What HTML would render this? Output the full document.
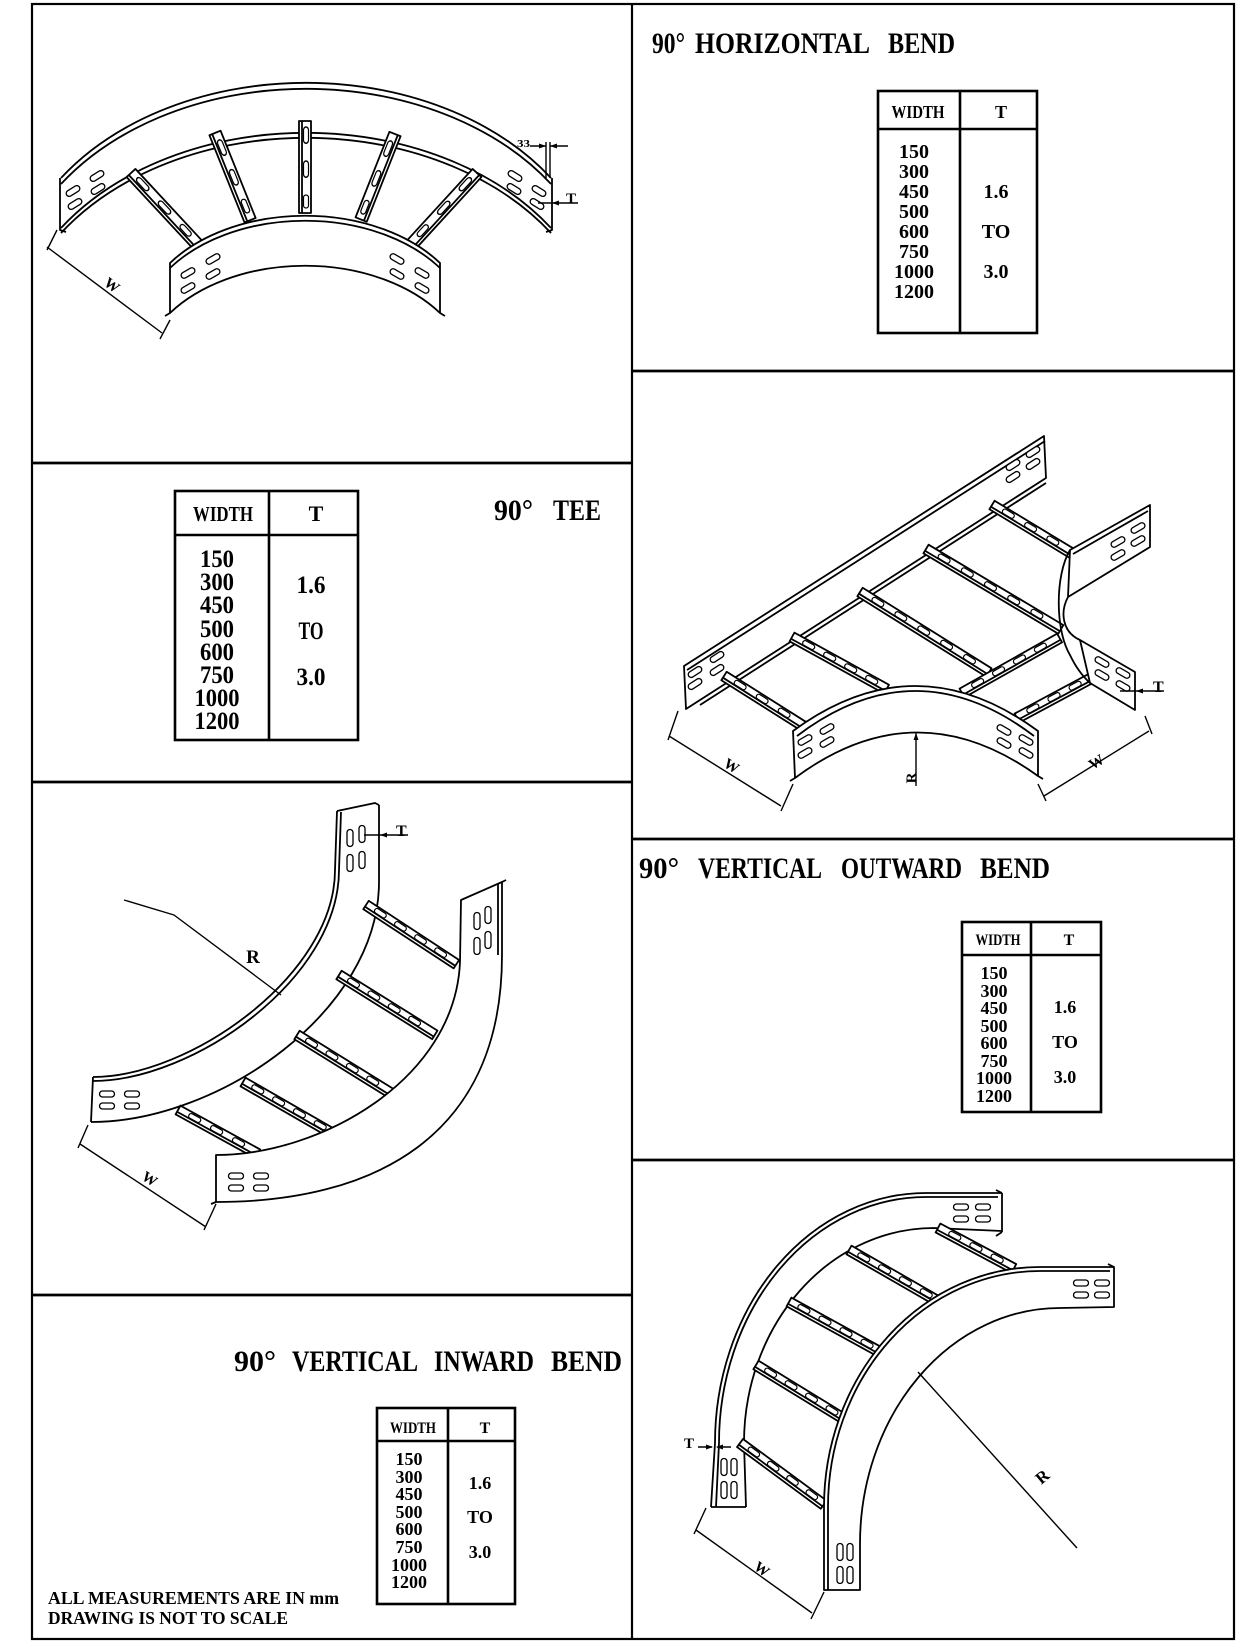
<!DOCTYPE html>
<html><head><meta charset="utf-8">
<style>
html,body{margin:0;padding:0;background:#fff;}
svg{display:block;}
text{font-family:"Liberation Serif",serif;font-weight:bold;fill:#000;stroke:none;}
</style></head><body>
<svg width="1260" height="1641" viewBox="0 0 1260 1641" xmlns="http://www.w3.org/2000/svg">
<defs>
<rect id="sl" x="-7.5" y="-3" width="15" height="6" rx="3" fill="#fff" stroke="#000" stroke-width="1.3"/>
<rect id="sv" x="-3" y="-8.5" width="6" height="17" rx="3" fill="#fff" stroke="#000" stroke-width="1.3"/>
<rect id="rs" x="0" y="-3.5" width="13" height="5" rx="2.5" fill="#fff" stroke="#000" stroke-width="1.2"/>
</defs>
<rect width="1260" height="1641" fill="#fff"/>

<!-- FRAME -->
<g fill="none" stroke="#000" stroke-width="2.2">
<rect x="32" y="4" width="1202" height="1635"/>
<line x1="632" y1="4" x2="632" y2="1639"/>
<line x1="32" y1="463" x2="632" y2="463" stroke-width="2.8"/>
<line x1="32" y1="782" x2="632" y2="782" stroke-width="2.8"/>
<line x1="32" y1="1295" x2="632" y2="1295" stroke-width="2.8"/>
<line x1="632" y1="371" x2="1234" y2="371" stroke-width="2.8"/>
<line x1="632" y1="839" x2="1234" y2="839" stroke-width="2.8"/>
<line x1="632" y1="1160" x2="1234" y2="1160" stroke-width="2.8"/>
</g>

<!-- TITLES -->
<g font-size="30">
<text x="652" y="53" textLength="33" lengthAdjust="spacingAndGlyphs">90°</text>
<text x="695" y="53" textLength="175" lengthAdjust="spacingAndGlyphs">HORIZONTAL</text>
<text x="888" y="53" textLength="67" lengthAdjust="spacingAndGlyphs">BEND</text>

<text x="494" y="520" textLength="39" lengthAdjust="spacingAndGlyphs">90°</text>
<text x="553" y="520" textLength="48" lengthAdjust="spacingAndGlyphs">TEE</text>

<text x="639" y="878" textLength="40" lengthAdjust="spacingAndGlyphs">90°</text>
<text x="698" y="878" textLength="124" lengthAdjust="spacingAndGlyphs">VERTICAL</text>
<text x="841" y="878" textLength="121" lengthAdjust="spacingAndGlyphs">OUTWARD</text>
<text x="980" y="878" textLength="70" lengthAdjust="spacingAndGlyphs">BEND</text>

<text x="234" y="1371" textLength="42" lengthAdjust="spacingAndGlyphs">90°</text>
<text x="292" y="1371" textLength="126" lengthAdjust="spacingAndGlyphs">VERTICAL</text>
<text x="434" y="1371" textLength="100" lengthAdjust="spacingAndGlyphs">INWARD</text>
<text x="551" y="1371" textLength="71" lengthAdjust="spacingAndGlyphs">BEND</text>
</g>

<!-- TABLES -->
<g fill="none" stroke="#000" stroke-width="2.6">
<rect x="878" y="91" width="159" height="242"/>
<line x1="878" y1="129" x2="1037" y2="129"/>
<line x1="960" y1="91" x2="960" y2="333"/>
<rect x="175" y="491" width="183" height="249"/>
<line x1="175" y1="535" x2="358" y2="535"/>
<line x1="269" y1="491" x2="269" y2="740"/>
<rect x="962" y="922" width="139" height="190"/>
<line x1="962" y1="955" x2="1101" y2="955"/>
<line x1="1031" y1="922" x2="1031" y2="1112"/>
<rect x="377" y="1408" width="138" height="196"/>
<line x1="377" y1="1441" x2="515" y2="1441"/>
<line x1="448" y1="1408" x2="448" y2="1604"/>
</g>

<!-- table 1 text -->
<g font-size="20" text-anchor="middle">
<text x="918" y="118" font-size="18" textLength="53" lengthAdjust="spacingAndGlyphs">WIDTH</text>
<text x="1001" y="118" font-size="18">T</text>
<text x="914" y="158">150</text>
<text x="914" y="178">300</text>
<text x="914" y="198">450</text>
<text x="914" y="218">500</text>
<text x="914" y="238">600</text>
<text x="914" y="258">750</text>
<text x="914" y="278">1000</text>
<text x="914" y="298">1200</text>
<text x="996" y="198">1.6</text>
<text x="996" y="238">TO</text>
<text x="996" y="278">3.0</text>
</g>
<!-- table 2 text -->
<g font-size="25" text-anchor="middle">
<text x="223" y="521" font-size="21" textLength="60" lengthAdjust="spacingAndGlyphs">WIDTH</text>
<text x="316" y="521" font-size="22">T</text>
<text x="217" y="567" textLength="34" lengthAdjust="spacingAndGlyphs">150</text>
<text x="217" y="590" textLength="34" lengthAdjust="spacingAndGlyphs">300</text>
<text x="217" y="613" textLength="34" lengthAdjust="spacingAndGlyphs">450</text>
<text x="217" y="637" textLength="34" lengthAdjust="spacingAndGlyphs">500</text>
<text x="217" y="660" textLength="34" lengthAdjust="spacingAndGlyphs">600</text>
<text x="217" y="683" textLength="34" lengthAdjust="spacingAndGlyphs">750</text>
<text x="217" y="706" textLength="45" lengthAdjust="spacingAndGlyphs">1000</text>
<text x="217" y="729" textLength="45" lengthAdjust="spacingAndGlyphs">1200</text>
<text x="311" y="593" textLength="29" lengthAdjust="spacingAndGlyphs">1.6</text>
<text x="311" y="639" textLength="25" lengthAdjust="spacingAndGlyphs">TO</text>
<text x="311" y="685" textLength="29" lengthAdjust="spacingAndGlyphs">3.0</text>
</g>
<!-- table 3 text -->
<g font-size="18" text-anchor="middle">
<text x="998" y="945" font-size="16" textLength="45" lengthAdjust="spacingAndGlyphs">WIDTH</text>
<text x="1069" y="945" font-size="16">T</text>
<text x="994" y="979">150</text>
<text x="994" y="997">300</text>
<text x="994" y="1014">450</text>
<text x="994" y="1032">500</text>
<text x="994" y="1049">600</text>
<text x="994" y="1067">750</text>
<text x="994" y="1084">1000</text>
<text x="994" y="1102">1200</text>
<text x="1065" y="1013">1.6</text>
<text x="1065" y="1048">TO</text>
<text x="1065" y="1083">3.0</text>
</g>
<!-- table 4 text -->
<g font-size="18" text-anchor="middle">
<text x="413" y="1433" font-size="16" textLength="46" lengthAdjust="spacingAndGlyphs">WIDTH</text>
<text x="485" y="1433" font-size="16">T</text>
<text x="409" y="1465">150</text>
<text x="409" y="1483">300</text>
<text x="409" y="1500">450</text>
<text x="409" y="1518">500</text>
<text x="409" y="1535">600</text>
<text x="409" y="1553">750</text>
<text x="409" y="1571">1000</text>
<text x="409" y="1588">1200</text>
<text x="480" y="1489">1.6</text>
<text x="480" y="1523">TO</text>
<text x="480" y="1558">3.0</text>
</g>

<!-- FOOTER -->
<g font-size="18">
<text x="48" y="1604" textLength="291" lengthAdjust="spacingAndGlyphs">ALL MEASUREMENTS ARE IN mm</text>
<text x="48" y="1624" textLength="240" lengthAdjust="spacingAndGlyphs">DRAWING IS NOT TO SCALE</text>
</g>

<!-- ============ HORIZONTAL BEND ============ -->
<g fill="none" stroke="#000" stroke-width="1.8" stroke-linejoin="round">
<path d="M61,178 A297,219 0 0 1 551,178"/>
<path d="M61,184 A297,219 0 0 1 551,184"/>
<path d="M61,228 A297,219 0 0 1 551,228"/>
<path d="M61,233 A297,219 0 0 1 551,233"/>
<path d="M60,178 L60,230 L66,232"/>
<path d="M552,178 L552,230 L546,232"/>
<use href="#sl" transform="translate(73,191) rotate(-32)"/>
<use href="#sl" transform="translate(75,204) rotate(-32)"/>
<use href="#sl" transform="translate(97,176) rotate(-32)"/>
<use href="#sl" transform="translate(98,189) rotate(-32)"/>
<use href="#sl" transform="translate(539,191) rotate(32)"/>
<use href="#sl" transform="translate(537,204) rotate(32)"/>
<use href="#sl" transform="translate(515,176) rotate(32)"/>
<use href="#sl" transform="translate(514,189) rotate(32)"/>
<!-- rungs -->
<g transform="translate(131,173) rotate(47.1)"><rect x="0" y="-6" width="98" height="12" fill="#fff"/><line x1="0" y1="3" x2="98" y2="3"/><use href="#rs" transform="translate(8,0) scale(1.25,1)"/><use href="#rs" transform="translate(40,0) scale(1.25,1)"/><use href="#rs" transform="translate(72,0) scale(1.1,1)"/></g>
<g transform="translate(215,133) rotate(68.1)"><rect x="0" y="-6" width="94" height="12" fill="#fff"/><line x1="0" y1="3" x2="94" y2="3"/><use href="#rs" transform="translate(8,0) scale(1.25,1)"/><use href="#rs" transform="translate(40,0) scale(1.25,1)"/><use href="#rs" transform="translate(72,0) scale(1.1,1)"/></g>
<g transform="translate(305,121) rotate(90)"><rect x="0" y="-6" width="92" height="12" fill="#fff"/><line x1="0" y1="3" x2="92" y2="3"/><use href="#rs" transform="translate(6,0) scale(1.25,1)"/><use href="#rs" transform="translate(40,0) scale(1.25,1)"/><use href="#rs" transform="translate(74,0) scale(1,1)"/></g>
<g transform="translate(395,134) rotate(111.6)"><rect x="0" y="-6" width="92" height="12" fill="#fff"/><line x1="0" y1="-3" x2="92" y2="-3"/><use href="#rs" transform="translate(8,2) scale(1.25,1)"/><use href="#rs" transform="translate(40,2) scale(1.25,1)"/><use href="#rs" transform="translate(72,2) scale(1.1,1)"/></g>
<g transform="translate(477,173) rotate(132.5)"><rect x="0" y="-6" width="96" height="12" fill="#fff"/><line x1="0" y1="-3" x2="96" y2="-3"/><use href="#rs" transform="translate(8,2) scale(1.25,1)"/><use href="#rs" transform="translate(40,2) scale(1.25,1)"/><use href="#rs" transform="translate(72,2) scale(1.1,1)"/></g>
<!-- inner rail -->
<path d="M170,263 A166,113 0 0 1 440,263 L440,313 A166,113 0 0 0 170,313 Z" fill="#fff"/>
<path d="M170,268 A166,113 0 0 1 440,268"/>
<path d="M170,313 L165,316 M440,313 L445,316"/>
<use href="#sl" transform="translate(188,273) rotate(-30)"/>
<use href="#sl" transform="translate(188,288) rotate(-30)"/>
<use href="#sl" transform="translate(213,259) rotate(-30)"/>
<use href="#sl" transform="translate(213,274) rotate(-30)"/>
<use href="#sl" transform="translate(422,273) rotate(30)"/>
<use href="#sl" transform="translate(422,288) rotate(30)"/>
<use href="#sl" transform="translate(397,259) rotate(30)"/>
<use href="#sl" transform="translate(397,274) rotate(30)"/>
<!-- dims -->
<g stroke-width="1.4">
<path d="M47,247 L162,333"/>
<path d="M57,230 L47,250 M170,320 L160,339"/>
<path d="M546,142 L546,178 M550,142 L550,178"/>
<path d="M530,146 L546,146 M550,146 L568,146"/>
<path d="M538,203 L578,203"/>
</g>
<polygon points="546,146 539,143.5 539,148.5" fill="#000" stroke="none"/>
<polygon points="550,146 557,143.5 557,148.5" fill="#000" stroke="none"/>
<polygon points="552,203 559,200.5 559,205.5" fill="#000" stroke="none"/>
</g>
<text x="517" y="147" font-size="11" textLength="13" lengthAdjust="spacingAndGlyphs">33</text>
<text x="566" y="203" font-size="15">T</text>
<text x="0" y="0" font-size="15" text-anchor="middle" transform="translate(109,289) rotate(37)">W</text>

<!-- ============ TEE ============ -->
<g fill="none" stroke="#000" stroke-width="1.8" stroke-linejoin="round">
<path d="M684,666 L1044,436 L1046,478 L686,709 Z" fill="#fff"/>
<path d="M687,670 L1045,441"/>
<path d="M700,705 L1046,483"/>
<use href="#sl" transform="translate(695,672) rotate(-33)"/>
<use href="#sl" transform="translate(695,684) rotate(-33)"/>
<use href="#sl" transform="translate(717,657) rotate(-33)"/>
<use href="#sl" transform="translate(717,670) rotate(-33)"/>
<use href="#sl" transform="translate(1013,465) rotate(-33)"/>
<use href="#sl" transform="translate(1013,477) rotate(-33)"/>
<use href="#sl" transform="translate(1033,452) rotate(-33)"/>
<use href="#sl" transform="translate(1033,464) rotate(-33)"/>
<!-- main rungs -->
<g transform="translate(724,676) rotate(32.3)"><rect x="0" y="-5" width="96" height="10" fill="#fff"/><line x1="0" y1="2" x2="96" y2="2"/><use href="#rs" transform="translate(12,0)"/><use href="#rs" transform="translate(38,0)"/><use href="#rs" transform="translate(64,0)"/></g>
<g transform="translate(792,637) rotate(28.9)"><rect x="0" y="-5" width="108" height="10" fill="#fff"/><line x1="0" y1="2" x2="108" y2="2"/><use href="#rs" transform="translate(12,0)"/><use href="#rs" transform="translate(36,0)"/><use href="#rs" transform="translate(60,0)"/><use href="#rs" transform="translate(84,0)"/></g>
<g transform="translate(860,592) rotate(32)"><rect x="0" y="-5" width="152" height="10" fill="#fff"/><line x1="0" y1="2" x2="152" y2="2"/><use href="#rs" transform="translate(14,0)"/><use href="#rs" transform="translate(41,0)"/><use href="#rs" transform="translate(68,0)"/><use href="#rs" transform="translate(95,0)"/><use href="#rs" transform="translate(122,0)"/></g>
<g transform="translate(926,549) rotate(30.8)"><rect x="0" y="-5" width="157" height="10" fill="#fff"/><line x1="0" y1="2" x2="157" y2="2"/><use href="#rs" transform="translate(14,0)"/><use href="#rs" transform="translate(41,0)"/><use href="#rs" transform="translate(68,0)"/><use href="#rs" transform="translate(95,0)"/><use href="#rs" transform="translate(122,0)"/></g>
<g transform="translate(992,505) rotate(31.2)"><rect x="0" y="-5" width="95" height="10" fill="#fff"/><line x1="0" y1="2" x2="95" y2="2"/><use href="#rs" transform="translate(12,0)"/><use href="#rs" transform="translate(38,0)"/><use href="#rs" transform="translate(64,0)"/></g>
<!-- branch rungs -->
<g transform="translate(962,693) rotate(-29.4)"><rect x="0" y="-5" width="112" height="10" fill="#fff"/><line x1="0" y1="2" x2="112" y2="2"/><use href="#rs" transform="translate(12,0)"/><use href="#rs" transform="translate(36,0)"/><use href="#rs" transform="translate(60,0)"/><use href="#rs" transform="translate(84,0)"/></g>
<g transform="translate(1017,718) rotate(-28.2)"><rect x="0" y="-5" width="88" height="10" fill="#fff"/><line x1="0" y1="2" x2="88" y2="2"/><use href="#rs" transform="translate(12,0)"/><use href="#rs" transform="translate(36,0)"/><use href="#rs" transform="translate(60,0)"/></g>
<!-- front arc plate -->
<path d="M793,731 Q915.5,641 1038,731 L1038,776 Q916,688 795,778 Z" fill="#fff"/>
<path d="M797,736 Q915.5,646 1034,736"/>
<path d="M795,778 L790,781 M1038,776 L1043,779"/>
<use href="#sl" transform="translate(805,740) rotate(-30)"/>
<use href="#sl" transform="translate(805,753) rotate(-30)"/>
<use href="#sl" transform="translate(827,729) rotate(-30)"/>
<use href="#sl" transform="translate(827,742) rotate(-30)"/>
<use href="#sl" transform="translate(1004,730) rotate(30)"/>
<use href="#sl" transform="translate(1004,743) rotate(30)"/>
<use href="#sl" transform="translate(1026,740) rotate(30)"/>
<use href="#sl" transform="translate(1026,753) rotate(30)"/>
<!-- branch side rail -->
<path d="M1070,550 C1055,575 1055,630 1070,655 Q1078,672 1090,683" />
<path d="M1068,597 C1060,612 1062,632 1080,640"/>
<path d="M1070,550 L1150,505 L1150,547 L1068,597 Z" fill="#fff"/>
<path d="M1073,554 L1148,511"/>
<path d="M1080,640 L1135,672 L1135,710 L1090,683 Z" fill="#fff"/>
<use href="#sl" transform="translate(1118,542) rotate(-30)"/>
<use href="#sl" transform="translate(1118,555) rotate(-30)"/>
<use href="#sl" transform="translate(1138,528) rotate(-30)"/>
<use href="#sl" transform="translate(1138,541) rotate(-30)"/>
<use href="#sl" transform="translate(1102,662) rotate(30)"/>
<use href="#sl" transform="translate(1102,675) rotate(30)"/>
<use href="#sl" transform="translate(1123,673) rotate(30)"/>
<use href="#sl" transform="translate(1123,686) rotate(30)"/>
<!-- dims -->
<g stroke-width="1.4">
<path d="M669,736 L781,806 M678,711 L668,740 M793,784 L781,811"/>
<path d="M1044,796 L1149,731 M1038,784 L1046,801 M1145,716 L1152,734"/>
<path d="M916,733 L916,786"/>
<path d="M1120,691 L1164,691"/>
</g>
<polygon points="916,733 913.5,740 918.5,740" fill="#000" stroke="none"/>
<polygon points="1136,691 1143,688.5 1143,693.5" fill="#000" stroke="none"/>
</g>
<text x="1153" y="692" font-size="16">T</text>
<text x="0" y="0" font-size="15" text-anchor="middle" transform="translate(729,770) rotate(32)">W</text>
<text x="0" y="0" font-size="15" text-anchor="middle" transform="translate(1099,766) rotate(-32)">W</text>
<text x="0" y="0" font-size="15" text-anchor="middle" transform="translate(916,778) rotate(-90)">R</text>

<!-- ============ VERTICAL OUTWARD BEND ============ -->
<g fill="none" stroke="#000" stroke-width="1.8" stroke-linejoin="round">
<!-- upper rail -->
<path d="M337,811 L375,803 L379,805"/>
<path d="M337,811 L335,870 C335,975 190,1077 93,1077"/>
<path d="M341,812 L339,870 C339,979 193,1081 93,1081"/>
<path d="M379,805 L379,882 C379,1010 220,1122 91,1122"/>
<path d="M93,1077 L91,1122"/>
<use href="#sv" transform="translate(350,838)"/>
<use href="#sv" transform="translate(362,834)"/>
<use href="#sv" transform="translate(350,863)"/>
<use href="#sv" transform="translate(362,860)"/>
<use href="#sl" transform="translate(107,1094)"/>
<use href="#sl" transform="translate(132,1094)"/>
<use href="#sl" transform="translate(107,1106)"/>
<use href="#sl" transform="translate(132,1106)"/>
<!-- rungs -->
<g transform="translate(366,905) rotate(33.2)"><rect x="0" y="-5" width="108" height="10" fill="#fff"/><line x1="0" y1="2" x2="108" y2="2"/><use href="#rs" transform="translate(10,0)"/><use href="#rs" transform="translate(34,0)"/><use href="#rs" transform="translate(58,0)"/><use href="#rs" transform="translate(82,0)"/></g>
<g transform="translate(339,975) rotate(32)"><rect x="0" y="-5" width="113" height="10" fill="#fff"/><line x1="0" y1="2" x2="113" y2="2"/><use href="#rs" transform="translate(10,0)"/><use href="#rs" transform="translate(34,0)"/><use href="#rs" transform="translate(58,0)"/><use href="#rs" transform="translate(82,0)"/></g>
<g transform="translate(297,1035) rotate(31.8)"><rect x="0" y="-5" width="112" height="10" fill="#fff"/><line x1="0" y1="2" x2="112" y2="2"/><use href="#rs" transform="translate(10,0)"/><use href="#rs" transform="translate(34,0)"/><use href="#rs" transform="translate(58,0)"/><use href="#rs" transform="translate(82,0)"/></g>
<g transform="translate(243,1082) rotate(29.9)"><rect x="0" y="-5" width="106" height="10" fill="#fff"/><line x1="0" y1="2" x2="106" y2="2"/><use href="#rs" transform="translate(10,0)"/><use href="#rs" transform="translate(34,0)"/><use href="#rs" transform="translate(58,0)"/><use href="#rs" transform="translate(82,0)"/></g>
<g transform="translate(178,1110) rotate(28.8)"><rect x="0" y="-5" width="91" height="10" fill="#fff"/><line x1="0" y1="2" x2="91" y2="2"/><use href="#rs" transform="translate(12,0)"/><use href="#rs" transform="translate(37,0)"/><use href="#rs" transform="translate(62,0)"/></g>
<!-- lower rail -->
<path d="M461,900 L502,882 L502,955 C502,1140 370,1202 216,1202 L216,1155 C320,1155 455,1080 460,962 Z" fill="#fff"/>
<path d="M498,884 L498,955"/>
<path d="M502,882 L506,880 M216,1202 L211,1204"/>
<use href="#sv" transform="translate(477,921)"/>
<use href="#sv" transform="translate(488,915)"/>
<use href="#sv" transform="translate(477,946)"/>
<use href="#sv" transform="translate(488,940)"/>
<use href="#sl" transform="translate(236,1176)"/>
<use href="#sl" transform="translate(261,1176)"/>
<use href="#sl" transform="translate(236,1188)"/>
<use href="#sl" transform="translate(261,1188)"/>
<!-- dims -->
<g stroke-width="1.4">
<path d="M80,1144 L206,1227 M88,1125 L78,1148 M216,1204 L204,1230"/>
<path d="M124,900 L174,915 L281,995"/>
<path d="M364,835 L408,835"/>
</g>
<polygon points="380,835 387,832.5 387,837.5" fill="#000" stroke="none"/>
</g>
<text x="396" y="836" font-size="16">T</text>
<text x="253" y="963" font-size="19" text-anchor="middle">R</text>
<text x="0" y="0" font-size="15" text-anchor="middle" transform="translate(147,1183) rotate(33)">W</text>

<!-- ============ VERTICAL INWARD BEND ============ -->
<g fill="none" stroke="#000" stroke-width="1.8" stroke-linejoin="round">
<!-- outer rail -->
<path d="M711,1507 L715,1443 A211,250 0 0 1 926,1193 L1002,1193"/>
<path d="M716,1507 L719,1443 A207,246 0 0 1 926,1197 L998,1197"/>
<path d="M746,1507 L744,1443 A190,215 0 0 1 934,1228 L1002,1231"/>
<path d="M711,1507 L746,1507"/>
<path d="M1002,1193 L1002,1232 M1002,1193 L996,1190 M1002,1232 L996,1236"/>
<use href="#sl" transform="translate(961,1207)"/>
<use href="#sl" transform="translate(983,1207)"/>
<use href="#sl" transform="translate(961,1219)"/>
<use href="#sl" transform="translate(983,1219)"/>
<use href="#sv" transform="translate(724,1467)"/>
<use href="#sv" transform="translate(734,1467)"/>
<use href="#sv" transform="translate(724,1490)"/>
<use href="#sv" transform="translate(734,1490)"/>
<!-- rungs -->
<g transform="translate(938,1228) rotate(28.1)"><rect x="0" y="-5" width="86" height="10" fill="#fff"/><line x1="0" y1="2" x2="86" y2="2"/><use href="#rs" transform="translate(12,0)"/><use href="#rs" transform="translate(36,0)"/><use href="#rs" transform="translate(60,0)"/></g>
<g transform="translate(849,1250) rotate(29.9)"><rect x="0" y="-5" width="101" height="10" fill="#fff"/><line x1="0" y1="2" x2="101" y2="2"/><use href="#rs" transform="translate(10,0)"/><use href="#rs" transform="translate(34,0)"/><use href="#rs" transform="translate(58,0)"/><use href="#rs" transform="translate(82,0)"/></g>
<g transform="translate(789,1302) rotate(28.8)"><rect x="0" y="-5" width="104" height="10" fill="#fff"/><line x1="0" y1="2" x2="104" y2="2"/><use href="#rs" transform="translate(10,0)"/><use href="#rs" transform="translate(34,0)"/><use href="#rs" transform="translate(58,0)"/><use href="#rs" transform="translate(82,0)"/></g>
<g transform="translate(756,1365) rotate(31.5)"><rect x="0" y="-5" width="100" height="10" fill="#fff"/><line x1="0" y1="2" x2="100" y2="2"/><use href="#rs" transform="translate(10,0)"/><use href="#rs" transform="translate(34,0)"/><use href="#rs" transform="translate(58,0)"/><use href="#rs" transform="translate(82,0)"/></g>
<g transform="translate(740,1443) rotate(36.4)"><rect x="0" y="-5" width="104" height="10" fill="#fff"/><line x1="0" y1="2" x2="104" y2="2"/><use href="#rs" transform="translate(10,0)"/><use href="#rs" transform="translate(34,0)"/><use href="#rs" transform="translate(58,0)"/><use href="#rs" transform="translate(82,0)"/></g>
<!-- inner rail -->
<path d="M824,1590 L824,1507 A216,240 0 0 1 1040,1267 L1114,1267 L1114,1307 L1060,1308 A200,236 0 0 0 860,1544 L860,1590 Z" fill="#fff"/>
<path d="M828,1590 L828,1507 A212,236 0 0 1 1040,1271 L1110,1271"/>
<path d="M1114,1267 L1108,1264"/>
<use href="#sl" transform="translate(1081,1283)"/>
<use href="#sl" transform="translate(1102,1283)"/>
<use href="#sl" transform="translate(1081,1295)"/>
<use href="#sl" transform="translate(1102,1295)"/>
<use href="#sv" transform="translate(840,1552)"/>
<use href="#sv" transform="translate(850,1552)"/>
<use href="#sv" transform="translate(840,1575)"/>
<use href="#sv" transform="translate(850,1575)"/>
<!-- dims -->
<g stroke-width="1.4">
<path d="M696,1530 L812,1613 M706,1508 L694,1534 M824,1592 L811,1619"/>
<path d="M918,1372 L1077,1548"/>
<path d="M698,1447 L712,1447 M731,1447 L717,1447"/>
</g>
<polygon points="713,1447 706,1444.5 706,1449.5" fill="#000" stroke="none"/>
<polygon points="716,1447 723,1444.5 723,1449.5" fill="#000" stroke="none"/>
</g>
<text x="684" y="1448" font-size="15">T</text>
<text x="0" y="0" font-size="17" text-anchor="middle" transform="translate(1046,1481) rotate(-40)">R</text>
<text x="0" y="0" font-size="15" text-anchor="middle" transform="translate(759,1573) rotate(36)">W</text>

</svg>
</body></html>
